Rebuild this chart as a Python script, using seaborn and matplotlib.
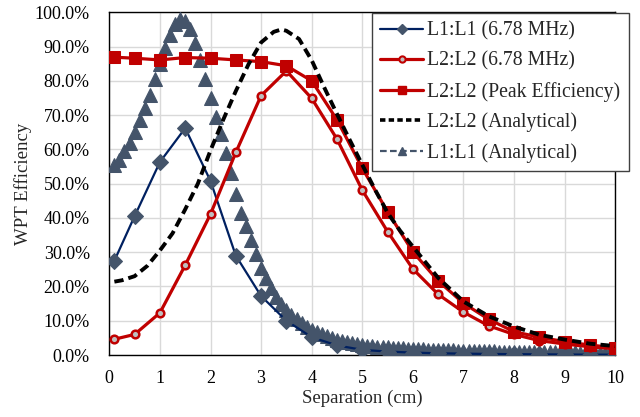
import numpy as np
import pandas as pd
import matplotlib
matplotlib.use("Agg")
import matplotlib.pyplot as plt
from matplotlib.lines import Line2D
import seaborn as sns

# ---- data ----
sep = [0.1, 0.5, 1.0, 1.5, 2.0, 2.5, 3.0, 3.5, 4.0, 4.5, 5.0, 5.5, 6.0, 6.5,
       7.0, 7.5, 8.0, 8.5, 9.0, 9.5, 10.0]
l1_678 = [27.5, 40.5, 56.3, 66.2, 50.8, 29.0, 17.2, 10.0, 5.2, 2.8, 1.5, 1.0,
          0.7, 0.5, 0.4, 0.3, 0.25, 0.2, 0.15, 0.1, 0.1]
l2_678 = [4.6, 6.0, 12.3, 26.2, 41.1, 59.1, 75.7, 82.9, 74.9, 63.0, 48.1, 36.0,
          25.1, 17.7, 12.5, 8.5, 6.0, 4.2, 3.2, 2.4, 1.8]
l2_peak = [86.9, 86.6, 86.1, 86.8, 86.6, 86.1, 85.6, 84.4, 80.0, 68.6, 54.5,
           41.8, 30.1, 21.6, 15.1, 10.4, 6.8, 5.2, 3.9, 2.9, 2.1]

l2_an_x = [0.1, 0.25, 0.5, 0.75, 1.0, 1.25, 1.5, 1.75, 2.0, 2.25, 2.5, 2.75,
           3.0, 3.25, 3.4, 3.5, 3.75, 4.0, 4.25, 4.5, 4.75, 5.0, 5.25, 5.5,
           5.75, 6.0, 6.5, 7.0, 7.5, 8.0, 8.5, 9.0, 9.5, 10.0]
l2_an_y = [21.4, 21.8, 23.0, 26.0, 30.5, 35.5, 42.5, 50.0, 59.7, 68.6, 77.0,
           84.8, 91.2, 94.3, 95.0, 94.6, 92.2, 86.0, 78.0, 70.3, 62.8, 55.5,
           48.3, 41.5, 36.2, 31.6, 22.5, 15.6, 11.3, 8.3, 5.9, 4.5, 3.3, 2.6]

l1_an_x = [round(0.1 * k, 1) for k in range(1, 101)]
l1_an_y = [55.5, 57.0, 59.5, 62.0, 65.0, 68.5, 72.0, 76.0, 80.5, 85.0,
           89.5, 93.5, 96.5, 98.0, 97.5, 95.0, 91.0, 86.0, 80.5, 75.0,
           69.5, 64.5, 59.0, 53.0, 47.0, 41.5, 37.5, 33.5, 29.5, 25.5,
           22.5, 19.5, 17.0, 15.0, 13.0, 11.7, 10.5, 9.3, 8.3, 7.3,
           6.6, 6.0, 5.4, 4.9, 4.5, 4.1, 3.7, 3.4, 3.1, 2.8,
           2.6, 2.5, 2.4, 2.3, 2.2, 2.1, 2.0, 1.9, 1.85, 1.8,
           1.7, 1.65, 1.6, 1.55, 1.5, 1.45, 1.4, 1.35, 1.3, 1.25,
           1.2, 1.17, 1.14, 1.11, 1.08, 1.05, 1.02, 1.0, 0.97, 0.95,
           0.93, 0.91, 0.89, 0.87, 0.85, 0.83, 0.81, 0.8, 0.78, 0.77,
           0.75, 0.74, 0.72, 0.71, 0.7, 0.68, 0.67, 0.66, 0.65, 0.64]

labels = ["L1:L1 (6.78 MHz)", "L2:L2 (6.78 MHz)", "L2:L2 (Peak Efficiency)",
          "L2:L2 (Analytical)", "L1:L1 (Analytical)"]
x_ticks = list(range(0, 11))
y_ticks = [0, 10, 20, 30, 40, 50, 60, 70, 80, 90, 100]

# ---- style ----
sns.set_style("white")
plt.rcParams["font.family"] = ["Liberation Serif", "DejaVu Serif"]

fig = plt.figure(figsize=(6.4, 4.17), dpi=100)
ax = fig.add_axes([109.3 / 640, 1 - 355 / 417, (615.3 - 109.3) / 640,
                   (355 - 12.3) / 417])

navy = "#002060"
slate = "#44546A"
red = "#C00000"

sns.lineplot(x=l1_an_x, y=l1_an_y, ax=ax, color=slate, lw=0,
             marker="^", markersize=9.5,
             markerfacecolor=slate, markeredgecolor=slate,
             zorder=3, sort=False, legend=False)
sns.lineplot(x=sep, y=l1_678, ax=ax, color=navy, lw=1.6, marker="D",
             markersize=8, markerfacecolor=slate, markeredgecolor=slate,
             zorder=4, sort=False, legend=False)
sns.lineplot(x=sep, y=l2_678, ax=ax, color=red, lw=2.3, marker="o",
             markersize=5.5, markerfacecolor="#BFBFBF", markeredgecolor=red,
             markeredgewidth=1.8, zorder=5, sort=False, legend=False)
sns.lineplot(x=sep, y=l2_peak, ax=ax, color=red, lw=2.3, marker="s",
             markersize=8, markerfacecolor=red, markeredgecolor=red,
             zorder=5, sort=False, legend=False)
sns.lineplot(x=l2_an_x, y=l2_an_y, ax=ax, color="black", lw=2.8,
             linestyle=(0, (2.4, 1.3)), zorder=6, sort=False, legend=False)

ax.set_xlim(0, 10)
ax.set_ylim(0, 100)
ax.set_xticks(x_ticks)
ax.set_yticks(y_ticks)
ax.set_xticklabels([str(t) for t in x_ticks], fontsize=13)
ax.set_yticklabels([f"{t:.1f}%" for t in y_ticks], fontsize=13)
ax.tick_params(axis="x", length=0, pad=11, colors="black")
ax.tick_params(axis="y", length=0, pad=14, colors="black")
ax.grid(True, color="#D9D9D9", lw=1.0)
ax.set_axisbelow(True)
for s in ax.spines.values():
    s.set_color("black")
    s.set_linewidth(1.0)
    s.set_visible(True)
ax.set_xlabel("Separation (cm)", fontsize=13.5, labelpad=2)
ax.set_ylabel("WPT Efficiency", fontsize=13.5, labelpad=2)

handles = [
    Line2D([], [], color=navy, lw=1.6, marker="D", markersize=5,
           markerfacecolor=slate, markeredgecolor=slate),
    Line2D([], [], color=red, lw=2.3, marker="o", markersize=4.5,
           markerfacecolor="#BFBFBF", markeredgecolor=red, markeredgewidth=1.5),
    Line2D([], [], color=red, lw=2.3, marker="s", markersize=6,
           markerfacecolor=red, markeredgecolor=red),
    Line2D([], [], color="black", lw=2.6, linestyle=(0, (1.5, 0.9))),
    Line2D([], [], color=slate, lw=1.6, linestyle=(0, (3, 1.5)), marker="^",
           markersize=6, markerfacecolor=slate, markeredgecolor=slate),
]
leg = ax.legend(handles, labels, loc="upper left",
                bbox_to_anchor=(371.7 / 640, 1 - 13.3 / 417),
                bbox_transform=fig.transFigure, prop={"size": 14.2},
                frameon=True, fancybox=False, framealpha=1, borderpad=0.42,
                labelspacing=0.55, handlelength=2.2, handletextpad=0.2,
                borderaxespad=0)
leg.get_frame().set_edgecolor("#404040")
leg.get_frame().set_linewidth(1.0)
leg.set_zorder(10)

fig.savefig("out.png", dpi=100)
